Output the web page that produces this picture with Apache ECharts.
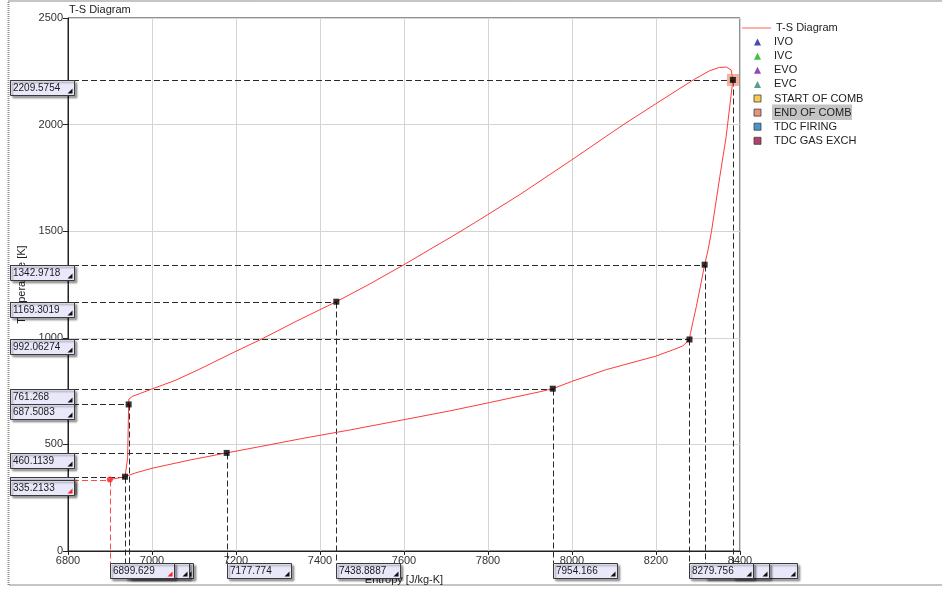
<!DOCTYPE html>
<html>
<head>
<meta charset="utf-8">
<script src="https://cdn.jsdelivr.net/npm/echarts@6/dist/echarts.min.js"></script>
<style>
  html, body { margin: 0; padding: 0; background: #fff; }
  #chart { width: 942px; height: 592px; }
</style>
</head>
<body>
<div id="chart"></div>
<script>
// Cycle trace: specific entropy [J/kg-K] and gas temperature [K]
const entropy = [
  6899.629, 6935.8, 6942.0, 6944.4, 6945.0, 6953, 6972, 7000, 7055, 7107,
  7200, 7262, 7345, 7438.8887, 7519, 7600, 7662, 7733, 7798, 7876,
  7999, 8121, 8199, 8290, 8328, 8351, 8368, 8379, 8383.1, 8367,
  8352, 8332, 8324, 8315.8, 8304, 8296, 8288, 8282, 8279.756, 8264,
  8240, 8198, 8082, 7999, 7954.166, 7924, 7803, 7709, 7600, 7472,
  7353, 7258, 7177.774, 7091, 7000, 6960, 6935.8
];
const temperature = [
  335.2133, 348.4, 436, 687.5083, 713, 725, 739, 760, 800, 847,
  937, 995, 1079, 1169.3019, 1253, 1343, 1415, 1497, 1576, 1672,
  1834, 1998, 2097, 2211, 2253, 2268, 2270, 2256, 2209.5754, 1943,
  1756, 1498, 1412, 1342.9718, 1224, 1146, 1076, 1021, 992.06274, 962,
  943, 913, 851, 795, 761.268, 747, 696, 657, 616, 568,
  526, 490, 460.1139, 427, 388, 366, 348.4
];

// Crank events along the cycle
const eventNames = ['IVO', 'IVC', 'EVO', 'EVC', 'START OF COMB', 'END OF COMB', 'TDC FIRING', 'TDC GAS EXCH'];
const eventEntropy = [8279.756, 6935.8, 8315.8, 7177.774, 6944.4, 8383.1, 7438.8887, 7954.166];
const eventTemp = [992.06274, 348.4, 1342.9718, 460.1139, 687.5083, 2209.5754, 1169.3019, 761.268];
const eventIcons = ['triangle', 'triangle', 'triangle', 'triangle', 'rect', 'rect', 'rect', 'rect'];
const eventColors = ['#1a1aa8', '#12b012', '#7a1a9a', '#2a8a70', '#f0c020', '#e07a58', '#1a7ac0', '#a0104a'];
const highlighted = 'END OF COMB';

// Cursor position (first sample)
const cursorEntropy = 6899.629;
const cursorTemp = 335.2133;

// Axis ranges
const xRange = [6800, 8400, 200];
const yRange = [0, 2500, 500];

const FONT = '"Liberation Sans", Arial, sans-serif';
const chart = echarts.init(document.getElementById('chart'), null, { renderer: 'canvas' });

const legendLeft = 742, legendTop = 22.5, rowH = 14.1;
const lineColor = '#ff3a3a';

const hiIdx = eventNames.indexOf(highlighted);
const series = [{
  name: 'T-S Diagram',
  type: 'line',
  data: entropy.map((s, i) => [s, temperature[i]]),
  symbol: 'none',
  lineStyle: { color: lineColor, width: 1 },
  itemStyle: { color: lineColor },
  z: 3
}, {
  name: 'selection',
  type: 'scatter',
  data: [[eventEntropy[hiIdx], eventTemp[hiIdx]]],
  symbol: 'rect',
  symbolSize: 12,
  itemStyle: { color: 'rgba(232,118,84,0.7)' },
  z: 4
}];
eventNames.forEach((name, i) => {
  series.push({
    name,
    type: 'scatter',
    data: [[eventEntropy[i], eventTemp[i]]],
    symbol: 'rect',
    symbolSize: 6,
    itemStyle: { color: '#000' },
    z: 5
  });
});
series.push({
  name: 'cursor',
  type: 'scatter',
  data: [[cursorEntropy, cursorTemp]],
  symbol: 'circle',
  symbolSize: 6,
  itemStyle: { color: '#ff2020' },
  z: 6
});

const legendText = { fontSize: 11, lineHeight: 11, color: '#222', fontFamily: FONT };

chart.setOption({
  animation: false,
  backgroundColor: '#fff',
  title: {
    text: 'T-S Diagram',
    left: 69, top: 4, padding: 0,
    textStyle: { fontSize: 11, fontWeight: 'normal', color: '#222', fontFamily: FONT }
  },
  legend: [{
    orient: 'vertical',
    left: legendLeft, top: legendTop, padding: 0,
    itemWidth: 29, itemHeight: 1, symbolKeepAspect: false,
    selectedMode: false,
    textStyle: Object.assign({ padding: [0, 0, 0, 0] }, legendText),
    data: [{ name: 'T-S Diagram', icon: 'rect', itemStyle: { color: '#ff5a5a' } }]
  }, {
    orient: 'vertical',
    left: legendLeft + 11.5, top: legendTop + rowH, padding: 0,
    itemWidth: 7, itemHeight: 7, itemGap: rowH - 11,
    selectedMode: false,
    textStyle: Object.assign({ padding: [0, 0, 0, 8] }, legendText),
    data: eventNames.map((n, i) => ({
      name: n,
      icon: eventIcons[i],
      itemStyle: eventIcons[i] === 'rect'
        ? { color: eventColors[i], borderColor: '#404040', borderWidth: 1 }
        : { color: eventColors[i] }
    }))
  }],
  grid: {
    left: 68, top: 18, width: 672, height: 533,
    show: true, borderColor: '#222', borderWidth: 1, backgroundColor: 'transparent'
  },
  xAxis: {
    type: 'value', min: xRange[0], max: xRange[1], interval: xRange[2],
    name: 'Entropy [J/kg-K]', nameLocation: 'middle', nameGap: 23,
    nameTextStyle: { fontSize: 11, color: '#222', fontFamily: FONT },
    axisLine: { lineStyle: { color: '#222' } },
    axisTick: { show: true, length: 4, lineStyle: { color: '#222' } },
    axisLabel: { fontSize: 11, color: '#333', margin: 4, fontFamily: FONT, formatter: v => String(v) },
    splitLine: { lineStyle: { color: '#d4d4d4' } }
  },
  yAxis: {
    type: 'value', min: yRange[0], max: yRange[1], interval: yRange[2],
    name: 'Temperature [K]', nameLocation: 'middle', nameGap: 40, nameRotate: 90,
    nameTextStyle: { fontSize: 11, color: '#222', fontFamily: FONT },
    axisLine: { show: true, lineStyle: { color: '#222' } },
    axisTick: { show: true, length: 5, lineStyle: { color: '#222' } },
    axisLabel: { fontSize: 11, color: '#333', margin: 5, fontFamily: FONT, formatter: v => String(v) },
    splitLine: { lineStyle: { color: '#d4d4d4' } }
  },
  series
});

// Crosshair guides and value tags for each event marker
const toPx = (s, t) => chart.convertToPixel({ gridIndex: 0 }, [s, t]);
const baseY = Math.round(toPx(xRange[0], 0)[1]);
const tagTop = baseY + 12;
const tagW = 64, tagH = 15, yTagX = 10;
const graphics = [];
let zc = 40;

function tag(x, y, text, triColor) {
  const z = zc; zc += 3;
  graphics.push({
    type: 'rect', z, silent: true,
    shape: { x: x + 0.5, y: y + 0.5, width: tagW, height: tagH },
    style: { fill: '#e8e8fa', stroke: '#3a3a3a', lineWidth: 1,
             shadowColor: 'rgba(0,0,0,0.35)', shadowBlur: 2, shadowOffsetX: 2, shadowOffsetY: 2 }
  });
  graphics.push({
    type: 'text', z: z + 1, silent: true,
    style: { x: x + 3, y: y + tagH / 2 + 1, text, fill: '#1a1a1a',
             font: '10px ' + FONT, verticalAlign: 'middle', align: 'left' }
  });
  graphics.push({
    type: 'polygon', z: z + 1, silent: true,
    shape: { points: [[x + tagW - 1.5, y + tagH - 6.5], [x + tagW - 1.5, y + tagH - 1.5], [x + tagW - 6.5, y + tagH - 1.5]] },
    style: { fill: triColor }
  });
}

function guides(px, py, color) {
  const x = Math.round(px) + 0.5, y = Math.round(py) + 0.5;
  graphics.push({
    type: 'line', z: 1, silent: true,
    shape: { x1: yTagX, y1: y, x2: x, y2: y },
    style: { stroke: color, lineWidth: 1, lineDash: [6, 3] }
  });
  graphics.push({
    type: 'line', z: 1, silent: true,
    shape: { x1: x, y1: y, x2: x, y2: tagTop },
    style: { stroke: color, lineWidth: 1, lineDash: [6, 3] }
  });
}

const pts = eventNames.map((n, i) => ({ s: eventEntropy[i], t: eventTemp[i], p: toPx(eventEntropy[i], eventTemp[i]) }));
const cur = toPx(cursorEntropy, cursorTemp);

pts.forEach(o => guides(o.p[0], o.p[1], '#2a2a2a'));
guides(cur[0], cur[1], '#ff4a4a');

// Temperature tags on the left
pts.slice().sort((a, b) => a.p[1] - b.p[1]).forEach(o => tag(yTagX, Math.round(o.p[1]), String(o.t), '#111'));
tag(yTagX, Math.round(cur[1]), String(cursorTemp), '#ff2020');

// Entropy tags along the bottom (left-most on top)
pts.slice().sort((a, b) => b.p[0] - a.p[0]).forEach(o => tag(Math.round(o.p[0]), tagTop, String(o.s), '#111'));
tag(Math.round(cur[0]), tagTop, String(cursorEntropy), '#ff2020');

// Highlight behind the selected legend entry
graphics.push({
  type: 'rect', z: -1, silent: true,
  shape: { x: legendLeft + 30, y: legendTop + (hiIdx + 1) * rowH - 2.5, width: 80, height: 15.5 },
  style: { fill: '#c4c4c4' }
});

// Outer dotted frame
graphics.push({
  type: 'rect', z: 0, silent: true,
  shape: { x: 8.5, y: 1, width: 940, height: 584 },
  style: { fill: 'none', stroke: '#8a8a8a', lineWidth: 2, lineDash: [1, 1] }
});

chart.setOption({ graphic: graphics });
</script>
</body>
</html>
